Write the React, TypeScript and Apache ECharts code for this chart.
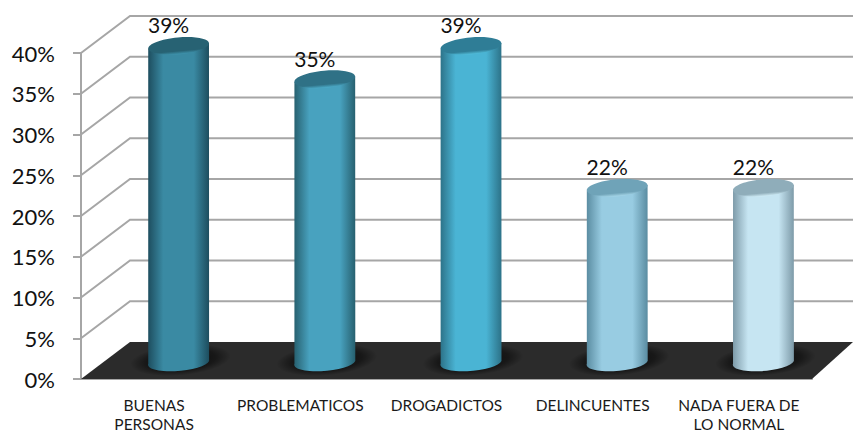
import React, { useEffect, useRef } from "react";
import * as echarts from "echarts";

const categories = ["BUENAS\nPERSONAS", "PROBLEMATICOS", "DROGADICTOS", "DELINCUENTES", "NADA FUERA DE\nLO NORMAL"];
const values = [39, 35, 39, 22, 22];
const wallTicks = [0, 5, 10, 15, 20, 25, 30, 35, 40];
const barEdge = ["#1d4d5e", "#27606f", "#2c7288", "#5a8ca1", "#7d9aa8"];
const barMid = ["#3a8aa3", "#48a2bf", "#4ab4d4", "#98cce2", "#c6e5f2"];
const barTop = ["#276273", "#2f7186", "#2f7d96", "#6fa3b8", "#8fadba"];
const barRim = ["#3f95af", "#4cabc8", "#52bedb", "#a6d6e8", "#d0ecf6"];

const DEPTH_X = 49;
const DEPTH_Y = 37;
const GRID_COLOR = "#a6a6a6";
const FLOOR_COLOR = "#2b2b2b";
const BAR_BASE = 1.26;
const RX = 30.5;
const RY = 8.5;
const TILT = 0.09;

function ell(cx: number, cy: number, fill: any, rx = RX, ry = RY) {
  return {
    type: "ellipse",
    shape: { cx: 0, cy: 0, rx, ry },
    x: cx,
    y: cy,
    rotation: TILT,
    style: { fill },
  };
}

function App() {
  const ref = useRef<HTMLDivElement>(null);
  useEffect(() => {
    const chart = echarts.init(ref.current!, null, { renderer: "svg" });
    const font = "Lato, 'Open Sans', sans-serif";
    chart.setOption({
      animation: false,
      backgroundColor: "#fff",
      grid: [
        { left: 81, right: 41, top: 53, bottom: 54, outerBoundsMode: "none" },
        { left: 105.5, right: 16.5, top: 37.5, bottom: 61.5, outerBoundsMode: "none" },
      ],
      xAxis: [
        {
          type: "category",
          data: categories,
          gridIndex: 0,
          axisLine: { lineStyle: { color: GRID_COLOR, width: 2 } },
          axisTick: { length: 7, lineStyle: { color: GRID_COLOR, width: 2 } },
          axisLabel: { interval: 0, color: "#1a1a1a", fontFamily: font, fontSize: 15.5, lineHeight: 19, margin: 16 },
        },
        { type: "category", data: categories, gridIndex: 1, show: false },
      ],
      yAxis: [
        {
          type: "value",
          gridIndex: 0,
          min: 0,
          max: 40,
          interval: 5,
          axisLine: { show: true, lineStyle: { color: GRID_COLOR, width: 2 } },
          axisTick: { show: true, length: 8, lineStyle: { color: GRID_COLOR, width: 2 } },
          splitLine: { show: false },
          axisLabel: { formatter: "{value}%", color: "#111", fontFamily: font, fontSize: 22, margin: 26 },
        },
        { type: "value", gridIndex: 1, min: 0, max: 40, interval: 5, show: false },
      ],
      series: [
        {
          type: "custom",
          xAxisIndex: 0,
          yAxisIndex: 0,
          silent: true,
          z: 1,
          data: wallTicks,
          encode: { y: 0 },
          renderItem(params: any, api: any) {
            const cs = params.coordSys;
            const tick = api.value(0);
            const y = api.coord([0, tick])[1];
            const left = cs.x;
            const right = cs.x + cs.width;
            const children: any[] = [];
            if (tick === 0) {
              children.push({
                type: "polygon",
                shape: {
                  points: [
                    [left, y],
                    [right, y],
                    [right + DEPTH_X - 8, y - DEPTH_Y],
                    [left + DEPTH_X, y - DEPTH_Y],
                  ],
                },
                style: { fill: FLOOR_COLOR },
              });
            } else {
              children.push({
                type: "polyline",
                shape: { points: [[left, y], [left + DEPTH_X, y - DEPTH_Y], [right + DEPTH_X, y - DEPTH_Y]] },
                style: { stroke: GRID_COLOR, lineWidth: 2, fill: "none" },
              });
            }
            return { type: "group", children };
          },
        },
        {
          type: "custom",
          xAxisIndex: 1,
          yAxisIndex: 1,
          silent: true,
          z: 3,
          data: values.map((v, i) => [i, v]),
          encode: { x: 0, y: 1 },
          renderItem(params: any, api: any) {
            const i = api.value(0);
            const v = api.value(1);
            const [cx, topY] = api.coord([i, v]);
            const botY = api.coord([i, BAR_BASE])[1];
            const dx = RX * Math.cos(TILT);
            const dy = RX * Math.sin(TILT);
            const body =
              `M ${cx - dx} ${topY + dy} L ${cx - dx} ${botY + dy} ` +
              `A ${RX} ${RY} ${(TILT * -180) / Math.PI} 0 0 ${cx + dx} ${botY - dy} ` +
              `L ${cx + dx} ${topY - dy} Z`;
            const side = {
              type: "linear", x: 0, y: 0, x2: 1, y2: 0,
              colorStops: [
                { offset: 0, color: barEdge[i] },
                { offset: 0.25, color: barMid[i] },
                { offset: 0.75, color: barMid[i] },
                { offset: 1, color: barEdge[i] },
              ],
            };
            const top = {
              type: "linear", x: 0, y: 0, x2: 0, y2: 1,
              colorStops: [
                { offset: 0, color: barTop[i] },
                { offset: 0.8, color: barTop[i] },
                { offset: 1, color: barRim[i] },
              ],
            };
            const shadow = {
              type: "radial", x: 0.5, y: 0.5, r: 0.5,
              colorStops: [
                { offset: 0, color: "rgba(0,0,0,0.8)" },
                { offset: 0.7, color: "rgba(0,0,0,0.45)" },
                { offset: 1, color: "rgba(0,0,0,0)" },
              ],
            };
            return {
              type: "group",
              children: [
                ell(cx + 2, botY - 1, shadow, RX + 20, RY + 7),
                { type: "path", shape: { pathData: body }, style: { fill: side } },
                ell(cx, topY, top),
                {
                  type: "text",
                  x: cx - 10,
                  y: topY - 21,
                  style: {
                    text: `${v}%`,
                    fill: "#111",
                    font: `21px ${font}`,
                    align: "center",
                    verticalAlign: "middle",
                  },
                },
              ],
            };
          },
        },
      ],
    });
    return () => chart.dispose();
  }, []);
  return <div ref={ref} style={{ position: "fixed", left: 0, top: 0, width: 853, height: 433 }} />;
}

export default App;
